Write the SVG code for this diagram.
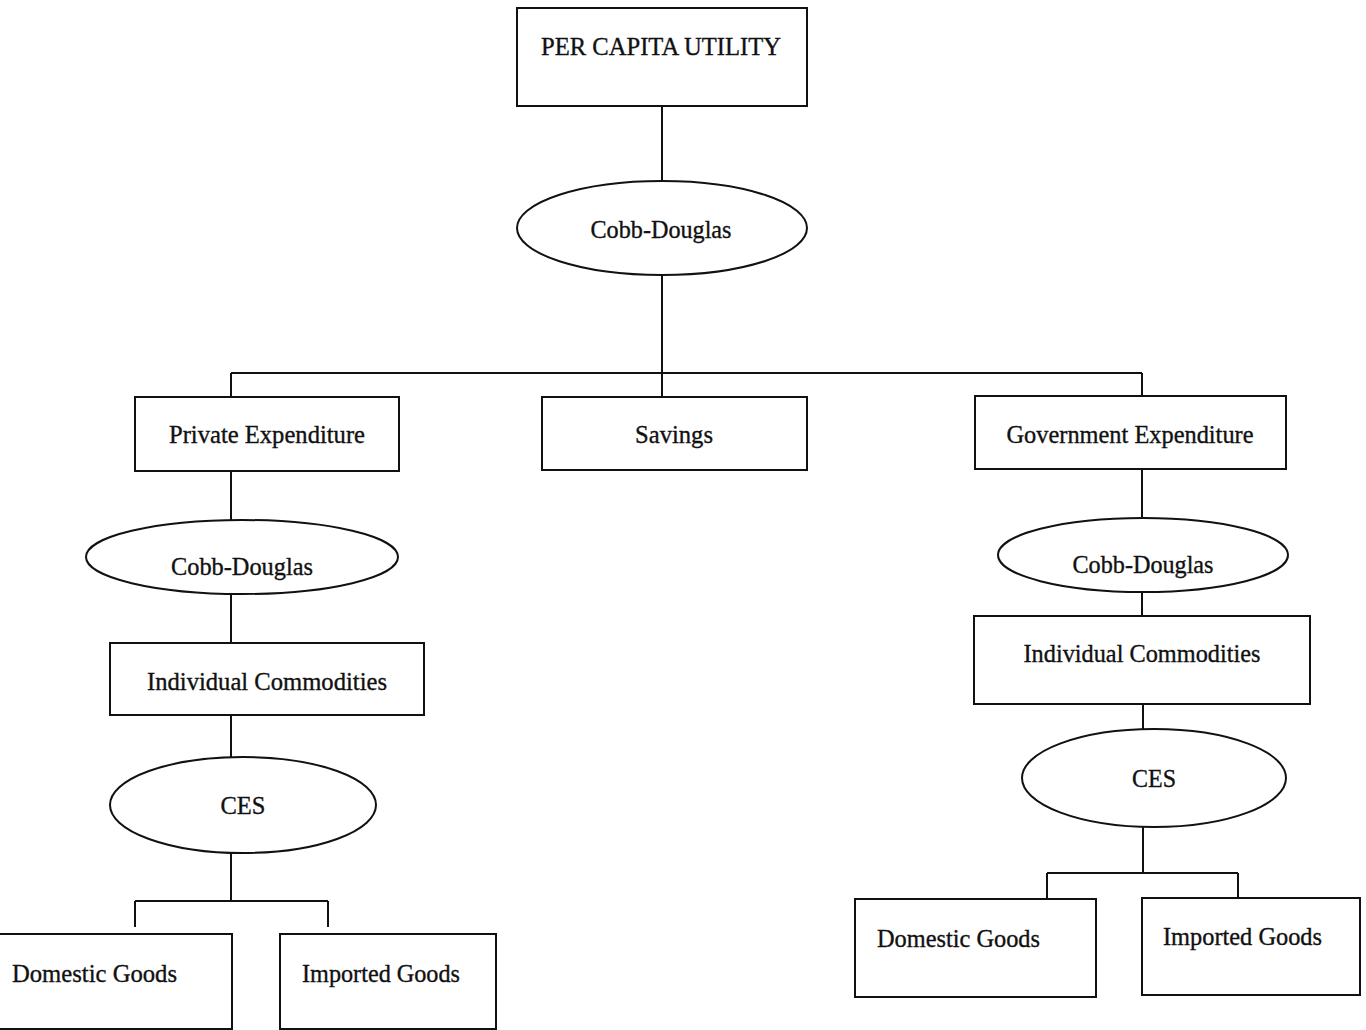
<svg xmlns="http://www.w3.org/2000/svg" width="1366" height="1030" viewBox="0 0 1366 1030">
<style>
.b{fill:#fff;stroke:#111;stroke-width:2}
.e{fill:#fff;stroke:#111;stroke-width:2}
.c{fill:none;stroke:#111;stroke-width:2}
text{font-family:"Liberation Serif","Times New Roman",serif;font-size:25.5px;fill:#111;stroke:#111;stroke-width:0.35}
.m{text-anchor:middle}
</style>
<rect width="1366" height="1030" fill="#fff"/>
<g id="connectors">
<path class="c" d="M662 106V180M662 275V373M231 373H1142M231 373V397M662 373V397M1142 373V396"/>
<path class="c" d="M231 471V520M231 594V643M231 715V757M231 854V901M135 901H328M135 901V927M328 901V927"/>
<path class="c" d="M1142 469V518M1142 592V616M1143 704V729M1143 827V873M1047 873H1238M1047 873V898M1238 873V898"/>
</g>
<g id="per-capita-utility"><rect class="b" x="517" y="8" width="290" height="98"/><text class="m" x="661" y="55" textLength="240" lengthAdjust="spacingAndGlyphs">PER CAPITA UTILITY</text></g>
<g id="cobb-douglas-top"><ellipse class="e" cx="662" cy="228" rx="145" ry="47"/><text class="m" x="661" y="238" textLength="141" lengthAdjust="spacingAndGlyphs">Cobb-Douglas</text></g>
<g id="private-expenditure"><rect class="b" x="135" y="397" width="264" height="74"/><text class="m" x="267" y="443" textLength="196" lengthAdjust="spacingAndGlyphs">Private Expenditure</text></g>
<g id="savings"><rect class="b" x="542" y="397" width="265" height="73"/><text class="m" x="674" y="443" textLength="78" lengthAdjust="spacingAndGlyphs">Savings</text></g>
<g id="government-expenditure"><rect class="b" x="975" y="396" width="311" height="73"/><text class="m" x="1130" y="443" textLength="247" lengthAdjust="spacingAndGlyphs">Government Expenditure</text></g>
<g id="cobb-douglas-left"><ellipse class="e" cx="242" cy="557" rx="156" ry="37"/><text class="m" x="242" y="575" textLength="142" lengthAdjust="spacingAndGlyphs">Cobb-Douglas</text></g>
<g id="individual-commodities-left"><rect class="b" x="110" y="643" width="314" height="72"/><text class="m" x="267" y="690" textLength="240" lengthAdjust="spacingAndGlyphs">Individual Commodities</text></g>
<g id="ces-left"><ellipse class="e" cx="243" cy="805" rx="133" ry="48"/><text class="m" x="243" y="814" textLength="45" lengthAdjust="spacingAndGlyphs">CES</text></g>
<g id="domestic-goods-left"><rect class="b" x="-4" y="934" width="236" height="95"/><text x="12" y="982" textLength="165" lengthAdjust="spacingAndGlyphs">Domestic Goods</text></g>
<g id="imported-goods-left"><rect class="b" x="280" y="934" width="216" height="95"/><text x="302" y="982" textLength="158" lengthAdjust="spacingAndGlyphs">Imported Goods</text></g>
<g id="cobb-douglas-right"><ellipse class="e" cx="1143" cy="555" rx="145" ry="37"/><text class="m" x="1143" y="573" textLength="141" lengthAdjust="spacingAndGlyphs">Cobb-Douglas</text></g>
<g id="individual-commodities-right"><rect class="b" x="974" y="616" width="336" height="88"/><text class="m" x="1142" y="662" textLength="237" lengthAdjust="spacingAndGlyphs">Individual Commodities</text></g>
<g id="ces-right"><ellipse class="e" cx="1154" cy="778" rx="132" ry="49"/><text class="m" x="1154" y="787" textLength="44" lengthAdjust="spacingAndGlyphs">CES</text></g>
<g id="domestic-goods-right"><rect class="b" x="855" y="899" width="241" height="98"/><text x="877" y="947" textLength="163" lengthAdjust="spacingAndGlyphs">Domestic Goods</text></g>
<g id="imported-goods-right"><rect class="b" x="1142" y="898" width="218" height="97"/><text x="1163" y="945" textLength="159" lengthAdjust="spacingAndGlyphs">Imported Goods</text></g>
</svg>
